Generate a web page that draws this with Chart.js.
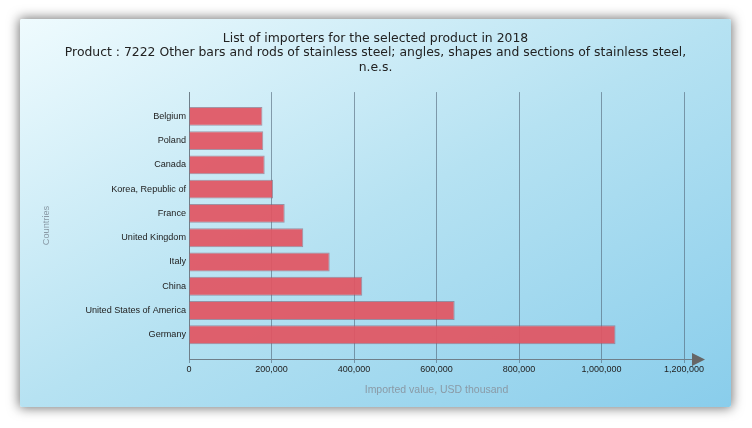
<!DOCTYPE html>
<html>
<head>
<meta charset="utf-8">
<script src="https://cdn.jsdelivr.net/npm/chart.js@4"></script>
<style>
  html, body { margin: 0; padding: 0; background: #ffffff; width: 752px; height: 428px; overflow: hidden; }
  #card {
    position: absolute; left: 20px; top: 19px; width: 711px; height: 388px;
    background: linear-gradient(to bottom right, #effbfe 0%, #b6e2f2 50%, #89cdeb 100%);
    box-shadow: 0 0 12px 1px rgba(0,0,0,0.55);
    border-radius: 2px;
  }
  canvas { display: block; }
</style>
</head>
<body>
<div id="card"><canvas id="c" width="711" height="388"></canvas></div>
<script>
const titleLines = [
  'List of importers for the selected product in 2018',
  'Product : 7222 Other bars and rods of stainless steel; angles, shapes and sections of stainless steel,',
  'n.e.s.'
];
const categories = ['Belgium', 'Poland', 'Canada', 'Korea, Republic of', 'France', 'United Kingdom', 'Italy', 'China', 'United States of America', 'Germany'];
const values = [178000, 180000, 183500, 203600, 232000, 277000, 341000, 420000, 644000, 1034000];
const xMin = 0;
const xMax = 1200000;
const xStep = 200000;
const xTitle = 'Imported value, USD thousand';
const yTitle = 'Countries';

const gridColor = 'rgba(80,100,118,0.6)';
const axisColor = '#6f7f8a';

const arrowPlugin = {
  id: 'arrow',
  afterDraw(chart) {
    const { ctx, chartArea } = chart;
    const r = chartArea.right, b = chartArea.bottom;
    ctx.save();
    ctx.strokeStyle = axisColor;
    ctx.lineWidth = 1;
    ctx.beginPath();
    ctx.moveTo(r, b + 0.5);
    ctx.lineTo(r + 10, b + 0.5);
    ctx.stroke();
    ctx.fillStyle = '#666666';
    ctx.beginPath();
    ctx.moveTo(r + 8, b - 6);
    ctx.lineTo(r + 21, b + 0.5);
    ctx.lineTo(r + 8, b + 7);
    ctx.closePath();
    ctx.fill();
    ctx.restore();
  }
};

new Chart(document.getElementById('c'), {
  type: 'bar',
  data: {
    labels: categories,
    datasets: [{
      data: values,
      backgroundColor: 'rgba(225,85,98,0.93)',
      borderColor: 'rgba(130,90,110,0.6)',
      borderWidth: 1,
      categoryPercentage: 1.0,
      barPercentage: 0.78
    }]
  },
  options: {
    responsive: false,
    animation: false,
    indexAxis: 'y',
    locale: 'en-US',
    layout: { padding: 0 },
    plugins: {
      legend: { display: false },
      tooltip: { enabled: false },
      title: {
        display: true,
        text: titleLines,
        color: '#222222',
        font: { family: 'DejaVu Sans', size: 12.4, weight: 'normal', lineHeight: 1.15 },
        padding: { top: 12.8, bottom: 17.5 }
      }
    },
    scales: {
      x: {
        type: 'linear',
        min: xMin,
        max: xMax,
        ticks: {
          stepSize: xStep,
          color: '#222222',
          font: { family: 'Liberation Sans', size: 9 },
          padding: 1.5,
          maxRotation: 0
        },
        grid: { color: gridColor, tickLength: 4, drawTicks: true },
        border: { color: axisColor },
        title: {
          display: true,
          text: xTitle,
          color: '#8a9aa6',
          font: { family: 'Liberation Sans', size: 10.5 },
          padding: { top: 0, bottom: 10.2 }
        },
        afterFit(s) { s.height = 48; }
      },
      y: {
        type: 'category',
        offset: true,
        grid: { display: false, drawTicks: false, tickLength: 0 },
        border: { display: true, color: axisColor },
        ticks: {
          color: '#222222',
          font: { family: 'Liberation Sans', size: 9.1 },
          padding: 3
        },
        title: {
          display: true,
          text: yTitle,
          color: '#8a9aa6',
          font: { family: 'Liberation Sans', size: 9.2 },
          padding: { top: 21, bottom: 0 }
        },
        afterFit(s) { s.width = 169; },
        afterBuildTicks(s) { s._startValue -= 0.5; s._valueRange += 1; }
      },
      yRight: {
        type: 'category',
        position: 'right',
        display: true,
        grid: { display: false, drawTicks: false },
        border: { display: false },
        ticks: { display: false },
        afterFit(s) { s.width = 47; }
      }
    }
  },
  plugins: [arrowPlugin]
});
</script>
</body>
</html>
